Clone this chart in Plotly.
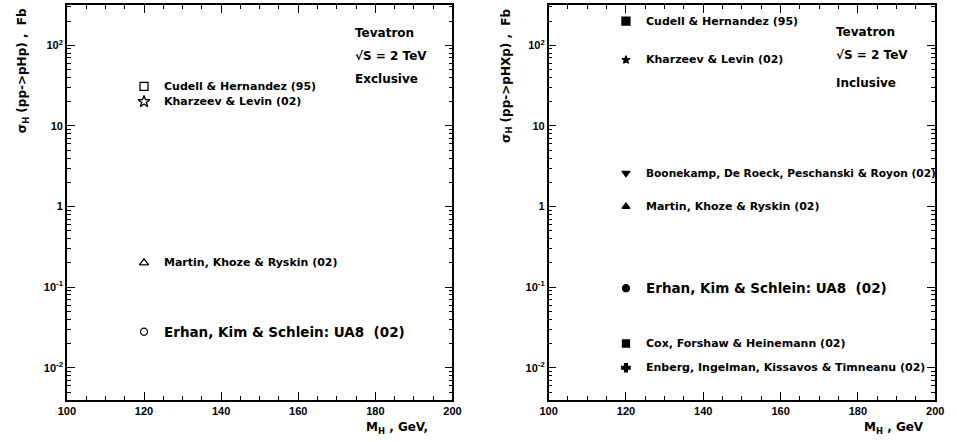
import numpy as np
import plotly.graph_objects as go

W, H = 957, 442

# ---------------- data ----------------
mass = [120]

excl_labels = ["Cudell & Hernandez (95)", "Kharzeev & Levin (02)",
               "Martin, Khoze & Ryskin (02)", "Erhan, Kim & Schlein: UA8  (02)"]
excl_values = [31, 20, 0.2, 0.028]
excl_symbols = ["square-open", "star-open", "triangle-up-open", "circle-open"]
excl_sizes = [8, 9, 8, 7]
excl_fontsize = [11, 11, 11, 13.5]

incl_labels = ["Cudell & Hernandez (95)", "Kharzeev & Levin (02)",
               "Boonekamp, De Roeck, Peschanski & Royon (02)",
               "Martin, Khoze & Ryskin (02)",
               "Erhan, Kim & Schlein: UA8  (02)",
               "Cox, Forshaw & Heinemann (02)",
               "Enberg, Ingelman, Kissavos & Timneanu (02)"]
incl_values = [200, 66, 2.6, 1.0, 0.097, 0.02, 0.01]
incl_symbols = ["square", "star", "triangle-down", "triangle-up", "circle", "square", "cross"]
incl_sizes = [8, 6, 7, 7, 7, 7, 7]
incl_fontsize = [11, 11, 10.6, 11, 13.5, 11, 11]

x_range = [100, 200]
y_range_log = [-2.4, 2.5]
x_ticks = [100, 120, 140, 160, 180, 200]
y_tickvals = [0.01, 0.1, 1, 10, 100]
y_ticktext = ["10<sup>-2</sup>", "10<sup>-1</sup>", "1", "10", "10<sup>2</sup>"]

panel_info = [
    dict(lines=["Tevatron", "√S = 2 TeV", "Exclusive"],
         ytitle="σ<sub>H</sub> (pp->pHp) ,  Fb", xtitle="M<sub>H</sub> , GeV,"),
    dict(lines=["Tevatron", "√S = 2 TeV", "Inclusive"],
         ytitle="σ<sub>H</sub> (pp->pHXp) ,  Fb", xtitle="M<sub>H</sub> , GeV"),
]

# ---------------- layout geometry (pixels) ----------------
px_left = [(59, 452), (550, 944)]
py_top, py_bot = 5, 400
ydom = [1 - py_bot / H, 1 - py_top / H]

FONT = "DejaVu Sans"

fig = go.Figure()

def add_panel(i, labels, values, symbols, sizes, fsizes):
    xa = "x" if i == 0 else "x2"
    ya = "y" if i == 0 else "y2"
    for lab, v, s, sz, fs in zip(labels, values, symbols, sizes, fsizes):
        fig.add_trace(go.Scatter(
            x=mass, y=[v], mode="markers", xaxis=xa, yaxis=ya,
            marker=dict(symbol=s, size=sz, color="black",
                        line=dict(color="black", width=1.3)),
            showlegend=False, hoverinfo="skip"))
        fig.add_annotation(x=125, y=np.log10(v), xref=xa, yref=ya,
                           text=lab, showarrow=False, xanchor="left", yanchor="middle",
                           xshift=-1,
                           font=dict(family=FONT, size=fs, color="black", weight="bold"))

add_panel(0, excl_labels, excl_values, excl_symbols, excl_sizes, excl_fontsize)
add_panel(1, incl_labels, incl_values, incl_symbols, incl_sizes, incl_fontsize)

axis_common = dict(showline=True, linecolor="black", linewidth=1.5, mirror="allticks",
                   ticks="inside", ticklen=8, tickwidth=1.2, tickcolor="black",
                   showgrid=False, zeroline=False,
                   tickfont=dict(family="Liberation Sans", size=11, color="black", weight="bold"))

for i, (x0, x1) in enumerate(px_left):
    sfx = "" if i == 0 else "2"
    fig.update_layout(**{
        f"xaxis{sfx}": dict(axis_common, domain=[x0 / W, x1 / W], range=x_range,
                            anchor=f"y{sfx}", tickvals=x_ticks,
                            minor=dict(dtick=5, ticks="inside", ticklen=4, tickwidth=1, tickcolor="black", showgrid=False)),
        f"yaxis{sfx}": dict(axis_common, domain=ydom, type="log", range=y_range_log,
                            anchor=f"x{sfx}", tickvals=y_tickvals, ticktext=y_ticktext,
                            minor=dict(dtick="D1", ticks="inside", ticklen=4, tickwidth=1, tickcolor="black", showgrid=False)),
    })
    info = panel_info[i]
    # Tevatron block
    tx = [352.7, 843.3][i]
    tys = [[33, 55.7, 79], [32, 55, 83]][i]
    for line, ty in zip(info["lines"], tys):
        fig.add_annotation(x=tx / W, y=1 - ty / H, xref="paper", yref="paper",
                           text=line, showarrow=False, xanchor="left", yanchor="middle",
                           xshift=-2,
                           font=dict(family=FONT, size=12, color="black", weight="bold"))
    # y title
    fig.add_annotation(x=[15, 508][i] / W, y=1 - 6 / H, xref="paper", yref="paper",
                       text=info["ytitle"], textangle=-90, showarrow=False,
                       xanchor="center", yanchor="top",
                       font=dict(family=FONT, size=12, color="black", weight="bold"))
    # x title
    fig.add_annotation(x=[429, 935][i] / W, y=1 - 428 / H, xref="paper", yref="paper",
                       text=info["xtitle"], showarrow=False, xanchor="right", yanchor="middle",
                       font=dict(family=FONT, size=12, color="black", weight="bold"))

fig.update_layout(width=W, height=H, margin=dict(l=0, r=0, t=0, b=0),
                  paper_bgcolor="white", plot_bgcolor="white", showlegend=False)

fig.write_html("out.html")
